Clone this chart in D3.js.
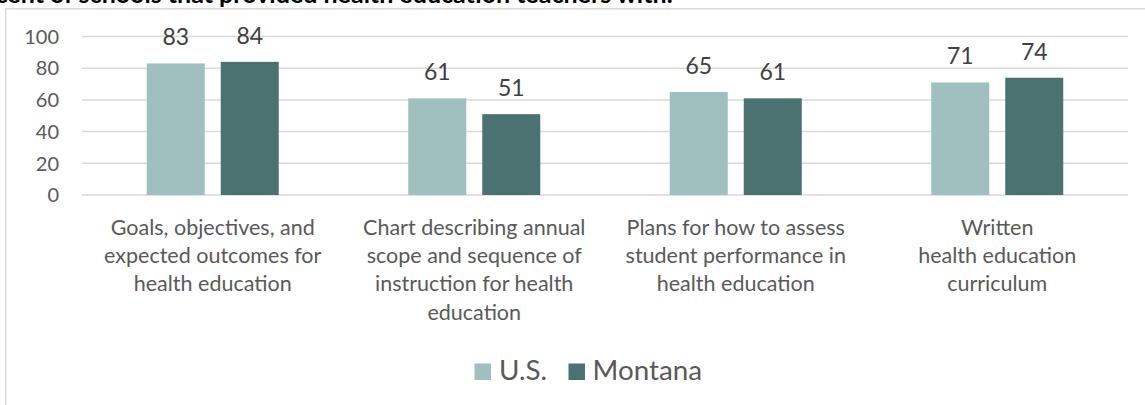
<!DOCTYPE html>
<html>
<head>
<meta charset="utf-8">
<script src="https://cdn.jsdelivr.net/npm/d3@7"></script>
<style>
  body { margin: 0; background: #fff; }
  svg { display: block; font-family: Lato, "Open Sans", sans-serif; }
</style>
</head>
<body>
<div id="chart"></div>
<script>
const title = "Percent of schools that provided health education teachers with:";
const categories = [
  ["Goals, objectives, and", "expected outcomes for", "health education"],
  ["Chart describing annual", "scope and sequence of", "instruction for health", "education"],
  ["Plans for how to assess", "student performance in", "health education"],
  ["Written", "health education", "curriculum"],
];
const series = ["U.S.", "Montana"];
const usValues = [83, 61, 65, 71];
const montanaValues = [84, 51, 61, 74];
const yTicks = [0, 20, 40, 60, 80, 100];

const width = 1145, height = 405;
const marginLeft = 82, marginRight = 17, plotTop = 36.5, plotBottom = 195;
const colors = { "U.S.": "#a0c0bf", "Montana": "#4a7271" };
const textColor = "#595959";

const data = categories.map((c, i) => ({
  key: i,
  lines: c,
  values: [
    { series: "U.S.", value: usValues[i] },
    { series: "Montana", value: montanaValues[i] },
  ],
}));

const svg = d3.select("#chart").append("svg")
  .attr("width", width)
  .attr("height", height);

// chart frame (extends past the right and bottom edges)
svg.append("rect")
  .attr("x", 5.75).attr("y", 8.75)
  .attr("width", width + 20).attr("height", height + 20)
  .attr("fill", "none")
  .attr("stroke", "#d9d9d9")
  .attr("stroke-width", 1.5);

// title, cut off by the top and left of the picture
svg.append("text")
  .attr("x", 673).attr("y", 2.5)
  .attr("text-anchor", "end")
  .attr("font-weight", "bold")
  .attr("font-size", 25)
  .attr("fill", "#000")
  .text(title);

const x0 = d3.scaleBand()
  .domain(data.map((d) => d.key))
  .range([marginLeft, width - marginRight]);

const groupWidth = 132;
const x1 = d3.scaleBand()
  .domain(series)
  .range([(x0.bandwidth() - groupWidth) / 2, (x0.bandwidth() + groupWidth) / 2])
  .paddingInner(16 / 74);

const y = d3.scaleLinear().domain([0, 100]).range([plotBottom, plotTop]);

// gridlines
svg.append("g")
  .selectAll("line")
  .data(yTicks)
  .join("line")
  .attr("x1", marginLeft)
  .attr("x2", width - marginRight)
  .attr("y1", (d) => y(d))
  .attr("y2", (d) => y(d))
  .attr("stroke", "#d9d9d9")
  .attr("stroke-width", 1.5);

// y axis labels
svg.append("g")
  .selectAll("text")
  .data(yTicks)
  .join("text")
  .attr("x", 59)
  .attr("y", (d) => y(d))
  .attr("dy", "0.36em")
  .attr("text-anchor", "end")
  .attr("font-size", 20)
  .attr("fill", textColor)
  .text((d) => d);

const groups = svg.append("g")
  .selectAll("g")
  .data(data)
  .join("g")
  .attr("transform", (d) => `translate(${x0(d.key)},0)`);

groups.selectAll("rect")
  .data((d) => d.values)
  .join("rect")
  .attr("x", (d) => x1(d.series))
  .attr("y", (d) => y(d.value))
  .attr("width", x1.bandwidth())
  .attr("height", (d) => y(0) - y(d.value))
  .attr("fill", (d) => colors[d.series]);

groups.selectAll("text.value")
  .data((d) => d.values)
  .join("text")
  .attr("class", "value")
  .attr("x", (d) => x1(d.series) + x1.bandwidth() / 2)
  .attr("y", (d) => y(d.value) - 18)
  .attr("text-anchor", "middle")
  .attr("font-size", 23)
  .attr("fill", "#404040")
  .text((d) => d.value);

// category labels
svg.append("g")
  .selectAll("text")
  .data(data)
  .join("text")
  .attr("x", (d) => x0(d.key) + x0.bandwidth() / 2)
  .attr("y", 235)
  .attr("text-anchor", "middle")
  .attr("font-size", 21.5)
  .attr("fill", textColor)
  .selectAll("tspan")
  .data((d) => d.lines)
  .join("tspan")
  .attr("x", function () { return this.parentNode.getAttribute("x"); })
  .attr("dy", (d, i) => (i ? 28.2 : 0))
  .text((d) => d);

// legend
const legendItems = [
  { series: "U.S.", x: 474.5, textX: 499 },
  { series: "Montana", x: 568.5, textX: 592.5 },
];
const legend = svg.append("g")
  .selectAll("g")
  .data(legendItems)
  .join("g");
legend.append("rect")
  .attr("x", (d) => d.x)
  .attr("y", 363.5)
  .attr("width", 16.5)
  .attr("height", 16.5)
  .attr("fill", (d) => colors[d.series]);
legend.append("text")
  .attr("x", (d) => d.textX)
  .attr("y", 380)
  .attr("font-size", 27.8)
  .attr("fill", textColor)
  .text((d) => d.series);
</script>
</body>
</html>
